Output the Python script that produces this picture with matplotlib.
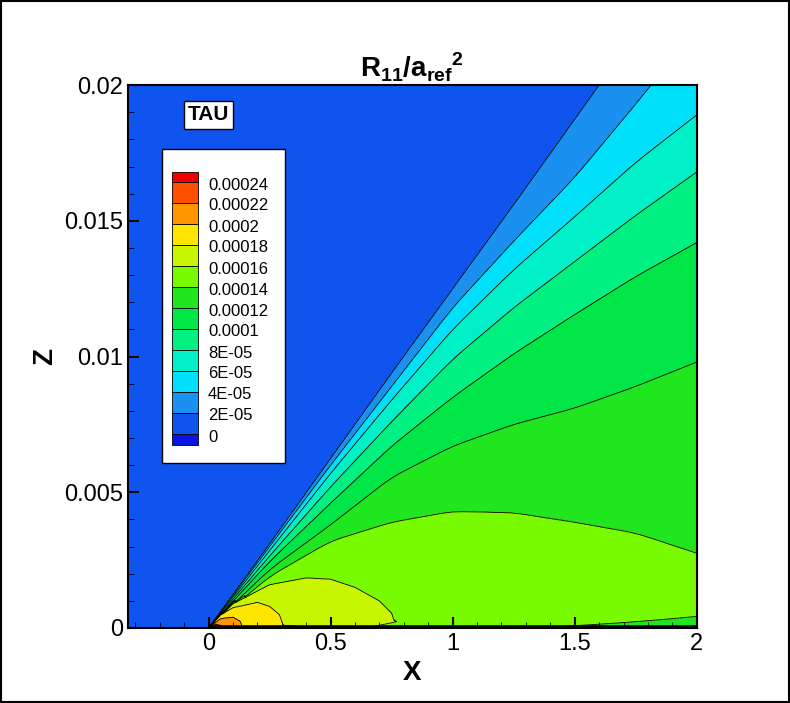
import numpy as np
import matplotlib.pyplot as plt
from matplotlib.colors import ListedColormap, BoundaryNorm
from matplotlib.patches import Rectangle

plt.rcParams["font.family"] = "Liberation Sans"
plt.rcParams["mathtext.fontset"] = "custom"
plt.rcParams["mathtext.bf"] = "Liberation Sans:bold"
plt.rcParams["mathtext.rm"] = "Liberation Sans"

# contour levels and band colours (band i spans levels[i]..levels[i+1])
levels = [0, 2e-5, 4e-5, 6e-5, 8e-5, 1e-4, 1.2e-4, 1.4e-4, 1.6e-4, 1.8e-4,
          2e-4, 2.2e-4, 2.4e-4, 2.6e-4]
band_colors = ["#0a14e6", "#1054f0", "#1a90f0", "#00e0fa", "#00f0c8", "#00f082",
               "#00e646", "#20e620", "#78fa00", "#c8f500", "#ffe600", "#ff9600",
               "#ff5000", "#f00000"]
legend_labels = ["0", "2E-05", "4E-05", "6E-05", "8E-05", "0.0001", "0.00012",
                 "0.00014", "0.00016", "0.00018", "0.0002", "0.00022", "0.00024"]

# contour heights (z in 1e-3) along x
x_fan = [0, 0.25, 0.5, 0.75, 1.0, 1.25, 1.5, 1.75, 2.0, 2.25]
z_edge = [0, 3.18, 6.35, 9.5, 12.7, 15.9, 19.05, 22.2, 25.4, 28.6]   # outer edge of the cone
z_4e5 = [0, 3.1, 6.25, 9.4, 12.5, 15.6, 18.75, 21.9, 25.0, 28.1]
z_6e5 = [0, 3.0, 6.0, 8.9, 11.8, 14.25, 16.6, 19.3, 22.1, 24.9]
z_8e5 = [0, 2.85, 5.7, 8.4, 11.0, 13.2, 15.15, 17.15, 18.9, 20.6]
z_1e4 = [0, 2.65, 5.2, 7.6, 9.9, 11.8, 13.5, 15.2, 16.8, 18.4]
z_12e5 = [0, 2.45, 4.6, 6.7, 8.5, 10.1, 11.55, 12.95, 14.2, 15.5]
z_14e5 = [0, 2.15, 3.8, 5.55, 6.7, 7.5, 8.1, 8.9, 9.8, 10.7]
z_16e5 = [0, 1.9, 3.2, 3.9, 4.3, 4.25, 3.9, 3.5, 2.76, 2.0]

# closed bubbles near the wall
x_18e5 = [0, 0.1, 0.25, 0.4, 0.5, 0.6, 0.7, 0.75, 0.77]
z_18e5 = [0, 0.9, 1.6, 1.85, 1.8, 1.5, 1.0, 0.55, 0]
x_2e4 = [0, 0.05, 0.1, 0.2, 0.25, 0.29, 0.31]
z_2e4 = [0, 0.5, 0.75, 0.95, 0.8, 0.5, 0]
x_22e5 = [0, 0.05, 0.1, 0.13, 0.14]
z_22e5 = [0, 0.35, 0.4, 0.25, 0]
x_24e5 = [0, 0.03, 0.05, 0.06]
z_24e5 = [0, 0.15, 0.1, 0]

# peak value just above the wall and value on the wall
x_peak = [0, 0.03, 0.06, 0.14, 0.31, 0.77, 1.0, 1.5, 2.0]
v_peak = [2.6e-4, 2.45e-4, 2.4e-4, 2.2e-4, 2.0e-4, 1.8e-4, 1.72e-4, 1.66e-4, 1.62e-4]
x_wall = [0, 0.5, 1.0, 1.3, 2.0]
v_wall = [2.5e-4, 1.85e-4, 1.65e-4, 1.6e-4, 1.55e-4]
background = 3e-5

xf = np.linspace(0.0, 2.1, 1200)


def curve(xs, zs, win=61):
    if win == 1:
        return np.interp(xf, xs, zs, right=np.nan) * 1e-3
    z = np.interp(xf, xs, zs) * 1e-3
    ker = np.ones(win) / win
    p = np.pad(z, win // 2, mode="reflect", reflect_type="odd")
    return np.convolve(p, ker, mode="valid")


open_lines = [(2.9e-5, curve(x_fan, z_edge)), (4e-5, curve(x_fan, z_4e5)),
              (6e-5, curve(x_fan, z_6e5)), (8e-5, curve(x_fan, z_8e5)),
              (1e-4, curve(x_fan, z_1e4)), (1.2e-4, curve(x_fan, z_12e5)),
              (1.4e-4, curve(x_fan, z_14e5)), (1.6e-4, curve(x_fan, z_16e5)),
              (1.8e-4, curve(x_18e5, z_18e5, 1)), (2e-4, curve(x_2e4, z_2e4, 1)),
              (2.2e-4, curve(x_22e5, z_22e5, 1)), (2.4e-4, curve(x_24e5, z_24e5, 1))]
vp = np.interp(xf, x_peak, v_peak)
vw = np.interp(xf, x_wall, v_wall)

zg = np.linspace(0, 0.02, 600)
F = np.full((len(zg), len(xf)), background)
for j, xv in enumerate(xf):
    if xv <= 0:
        continue
    zp = 0.0003 * min(xv, 2)
    pts = [(0.0, vw[j]), (zp, vp[j])]
    for lev, zc in sorted(open_lines, key=lambda t: -t[0]):
        if not np.isnan(zc[j]) and zc[j] > pts[-1][0]:
            pts.append((zc[j], lev))
    zz, vv = zip(*pts)
    F[:, j] = np.interp(zg, zz, vv, right=background)
xg = np.concatenate([[-0.4], xf])
F = np.hstack([np.full((len(zg), 1), background), F])
X, Z = np.meshgrid(xg, zg)

fig = plt.figure(figsize=(7.9, 7.03), dpi=100)
ax = fig.add_axes([0.162, 0.1067, 0.72, 0.7723])
cmap = ListedColormap(band_colors)
norm = BoundaryNorm(levels + [3e-4], cmap.N)
ax.contourf(X, Z, F, levels=levels + [3e-4], cmap=cmap, norm=norm)
ax.contour(X, Z, F, levels=levels[1:], colors="black", linewidths=0.6)
ax.plot([0, 2], [0, 0], color="black", lw=4, solid_capstyle="butt")

ax.set_xlim(-0.33, 2)
ax.set_ylim(0, 0.02)
ax.set_xticks([0, 0.5, 1, 1.5, 2])
ax.set_xticklabels(["0", "0.5", "1", "1.5", "2"])
ax.set_yticks([0, 0.005, 0.01, 0.015, 0.02])
ax.set_yticklabels(["0", "0.005", "0.01", "0.015", "0.02"])
ax.set_xticks(np.arange(-0.3, 2.01, 0.1), minor=True)
ax.set_yticks(np.arange(0, 0.0201, 0.001), minor=True)
ax.tick_params(direction="in", labelsize=17, length=8, width=1.5)
ax.tick_params(which="minor", direction="in", length=4)
for s in ax.spines.values():
    s.set_linewidth(1.5)
ax.set_xlabel("X", fontsize=20, fontweight="bold")
ax.set_ylabel("Z", fontsize=20, fontweight="bold")
ax.set_title(r"$\mathbf{R_{11}/a_{ref}}^{\mathbf{2}}$", fontsize=20)

ax.text(0.105, 0.935, "TAU", transform=ax.transAxes, fontsize=15, fontweight="bold",
        bbox=dict(facecolor="white", edgecolor="black", pad=3))

# legend box in figure coordinates (pixel layout of the reference)
W, H = 790, 703


def swatch(y0, h, color):
    fig.patches.append(Rectangle((172 / W, 1 - (y0 + h) / H), 26 / W, h / H,
                                 transform=fig.transFigure, facecolor=color,
                                 edgecolor="black", lw=0.6, zorder=6))


fig.patches.append(Rectangle((162 / W, 1 - 463 / H), 123 / W, 314 / H, transform=fig.transFigure,
                             facecolor="white", edgecolor="black", lw=1, zorder=5))
row_h = 21
swatch(172, 10, band_colors[-1])
for i in range(12):
    swatch(182 + i * row_h, row_h, band_colors[12 - i])
swatch(434, 11, band_colors[0])
for i, lab in enumerate(reversed(legend_labels)):
    fig.text(208 / W, 1 - (185 + i * row_h) / H, lab, fontsize=12, va="center", zorder=7)

fig.patches.append(Rectangle((0.001, 0.001), 0.998, 0.998, transform=fig.transFigure,
                             fill=False, edgecolor="black", lw=1.5))
fig.savefig("out.png", dpi=100)
